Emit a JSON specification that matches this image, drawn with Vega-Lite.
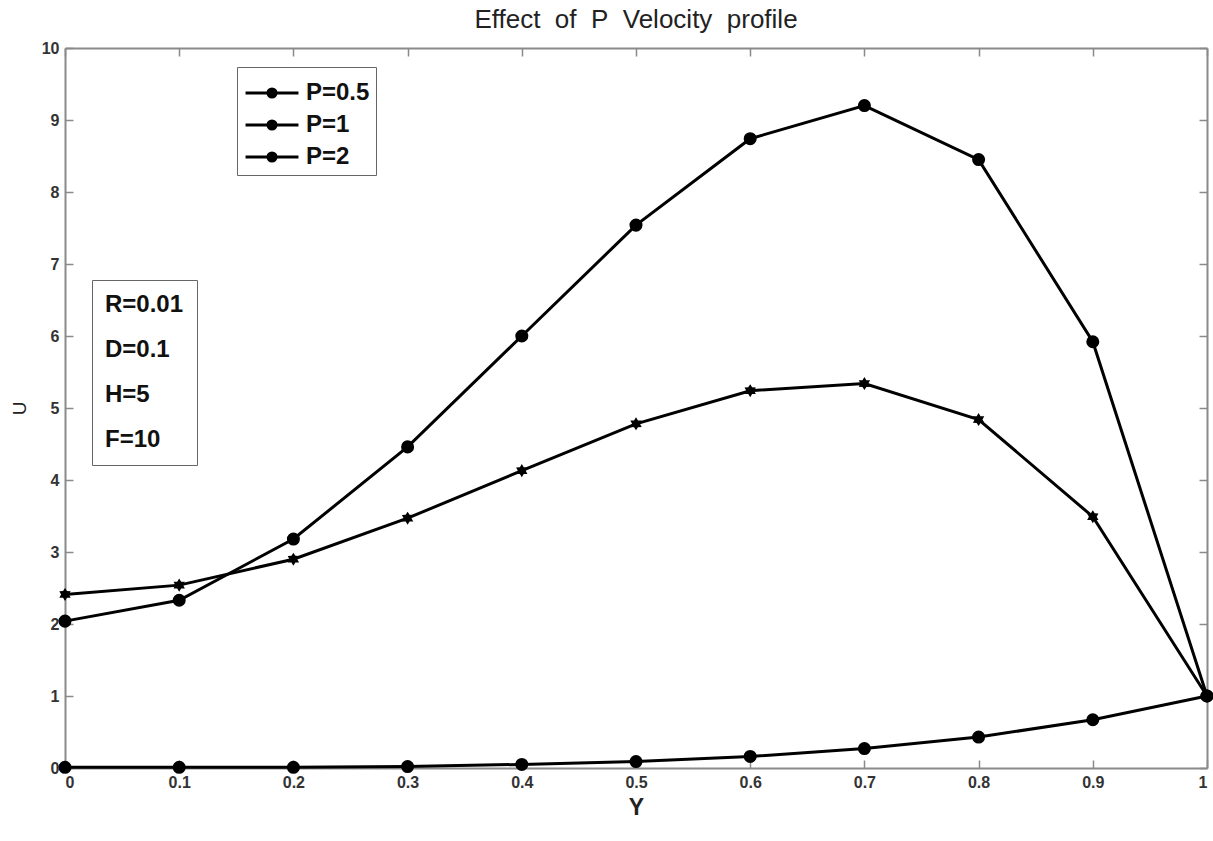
{
  "$schema": "https://vega.github.io/schema/vega-lite/v6.json",
  "autosize": "none",
  "width": 1142,
  "height": 720,
  "padding": {"left": 65, "top": 48, "right": 6, "bottom": 73},
  "background": "white",
  "title": {"text": "Effect\u00a0\u00a0of\u00a0\u00a0P\u00a0\u00a0Velocity\u00a0\u00a0profile", "fontSize": 26, "fontWeight": "normal", "font": "Liberation Sans", "color": "#222", "offset": 7},
  "config": {
    "view": {"stroke": null},
    "font": "Liberation Sans",
    "legend": {"strokeColor": "#666", "legendStrokeWidth": 2},
    "axis": {"domainColor": "#8a8a8a", "domainWidth": 2, "tickColor": "#8a8a8a", "tickWidth": 1.5, "tickSize": -8, "grid": false, "labelFont": "Liberation Sans", "labelFontWeight": "bold", "labelFontSize": 16, "labelColor": "#333"}
  },
  "datasets": {
    "series": [
      {"Y": 0, "U": 2.04, "P": "P=0.5"}, {"Y": 0.1, "U": 2.33, "P": "P=0.5"}, {"Y": 0.2, "U": 3.18, "P": "P=0.5"}, {"Y": 0.3, "U": 4.46, "P": "P=0.5"}, {"Y": 0.4, "U": 6.0, "P": "P=0.5"}, {"Y": 0.5, "U": 7.54, "P": "P=0.5"}, {"Y": 0.6, "U": 8.74, "P": "P=0.5"}, {"Y": 0.7, "U": 9.2, "P": "P=0.5"}, {"Y": 0.8, "U": 8.45, "P": "P=0.5"}, {"Y": 0.9, "U": 5.92, "P": "P=0.5"}, {"Y": 1.0, "U": 1.0, "P": "P=0.5"},
      {"Y": 0, "U": 2.41, "P": "P=1"}, {"Y": 0.1, "U": 2.54, "P": "P=1"}, {"Y": 0.2, "U": 2.9, "P": "P=1"}, {"Y": 0.3, "U": 3.47, "P": "P=1"}, {"Y": 0.4, "U": 4.13, "P": "P=1"}, {"Y": 0.5, "U": 4.78, "P": "P=1"}, {"Y": 0.6, "U": 5.24, "P": "P=1"}, {"Y": 0.7, "U": 5.34, "P": "P=1"}, {"Y": 0.8, "U": 4.84, "P": "P=1"}, {"Y": 0.9, "U": 3.49, "P": "P=1"}, {"Y": 1.0, "U": 1.0, "P": "P=1"},
      {"Y": 0, "U": 0.01, "P": "P=2"}, {"Y": 0.1, "U": 0.01, "P": "P=2"}, {"Y": 0.2, "U": 0.01, "P": "P=2"}, {"Y": 0.3, "U": 0.02, "P": "P=2"}, {"Y": 0.4, "U": 0.05, "P": "P=2"}, {"Y": 0.5, "U": 0.09, "P": "P=2"}, {"Y": 0.6, "U": 0.16, "P": "P=2"}, {"Y": 0.7, "U": 0.27, "P": "P=2"}, {"Y": 0.8, "U": 0.43, "P": "P=2"}, {"Y": 0.9, "U": 0.67, "P": "P=2"}, {"Y": 1.0, "U": 1.0, "P": "P=2"}
    ],
    "params": [{"param": "R=0.01"}, {"param": "D=0.1"}, {"param": "H=5"}, {"param": "F=10"}]
  },
  "resolve": {"axis": {"x": "independent", "y": "independent"}, "scale": {"color": "independent", "shape": "independent"}, "legend": {"shape": "independent", "color": "independent"}},
  "layer": [
    {
      "data": {"name": "series"},
      "mark": {"type": "line", "strokeWidth": 3},
      "encoding": {
        "x": {"field": "Y", "type": "quantitative", "scale": {"domain": [0, 1], "nice": false}, "axis": {"values": [0, 0.1, 0.2, 0.3, 0.4, 0.5, 0.6, 0.7, 0.8, 0.9, 1], "format": "~g", "title": "Y", "titleFontSize": 23, "titleFontWeight": "bold", "titleColor": "#222", "titlePadding": 6, "labelPadding": 14, "labelFontSize": 16}},
        "y": {"field": "U", "type": "quantitative", "scale": {"domain": [0, 10], "nice": false}, "axis": {"values": [0, 1, 2, 3, 4, 5, 6, 7, 8, 9, 10], "title": "U", "titleFontSize": 19, "titleFontWeight": "normal", "titleColor": "#222", "titlePadding": 12, "labelPadding": 14, "labelFontSize": 16}},
        "color": {"field": "P", "type": "nominal", "scale": {"domain": ["P=0.5", "P=1", "P=2"], "range": ["black", "black", "black"]},
          "legend": {"orient": "none", "legendX": 172, "legendY": 19, "title": null, "labelFontSize": 24, "labelFontWeight": "bold", "labelColor": "#111", "padding": 6, "rowPadding": -1, "symbolSize": 1369, "symbolStrokeWidth": 3, "symbolStrokeColor": "black", "symbolFillColor": "black", "symbolOffset": 9, "labelOffset": 14,
            "symbolType": "M-1.43,0H1.43M-0.22,0A0.22,0.22,0,1,0,0.22,0A0.22,0.22,0,1,0,-0.22,0M-0.09,0A0.09,0.09,0,1,0,0.09,0A0.09,0.09,0,1,0,-0.09,0"}
        }
      }
    },
    {
      "data": {"name": "series"},
      "mark": {"type": "point", "filled": true, "color": "black", "opacity": 1},
      "encoding": {
        "x": {"field": "Y", "type": "quantitative", "axis": {"orient": "top", "values": [0, 0.1, 0.2, 0.3, 0.4, 0.5, 0.6, 0.7, 0.8, 0.9, 1], "labels": false, "title": null}},
        "y": {"field": "U", "type": "quantitative", "axis": {"orient": "right", "values": [0, 1, 2, 3, 4, 5, 6, 7, 8, 9, 10], "labels": false, "title": null}},
        "shape": {"field": "P", "type": "nominal", "scale": {"domain": ["P=0.5", "P=1", "P=2"], "range": ["circle", "M0,-1L0.3,-0.52L0.87,-0.5L0.6,0L0.87,0.5L0.3,0.52L0,1L-0.3,0.52L-0.87,0.5L-0.6,0L-0.87,-0.5L-0.3,-0.52Z", "circle"]}, "legend": null},
        "size": {"value": 170}
      }
    },
    {
      "data": {"name": "params"},
      "mark": {"type": "point", "opacity": 0},
      "encoding": {
        "color": {"field": "param", "type": "nominal", "scale": {"domain": ["R=0.01", "D=0.1", "H=5", "F=10"], "range": ["black", "black", "black", "black"]},
          "legend": {"orient": "none", "legendX": 27, "legendY": 232, "title": null, "labelFontSize": 24, "labelFontWeight": "bold", "labelColor": "#111", "padding": 13, "rowPadding": 21, "symbolSize": 0, "symbolOpacity": 0, "labelOffset": -24, "symbolOffset": 0, "offset": 0}
        }
      }
    }
  ]
}
